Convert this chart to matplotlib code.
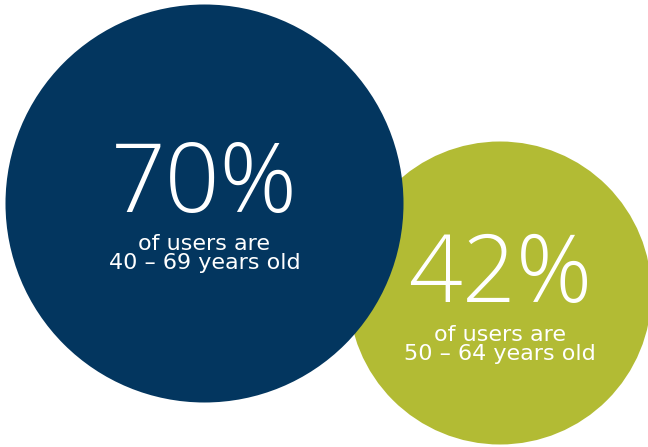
import matplotlib
matplotlib.use("Agg")
import matplotlib.pyplot as plt
from matplotlib.patches import Circle

# Figures shown in the two bubbles
shares = [70, 42]
subtitles = ["of users are", "of users are"]
age_ranges = ["40 – 69 years old", "50 – 64 years old"]

# Bubble layout (pixel space, y pointing down)
centers = [(204.5, 203.5), (500.0, 293.0)]
radii = [199.0, 151.5]
colors = ["#03365F", "#B2BB34"]
zorders = [3, 2]
baselines = [(212, 269), (302, 360)]
big_sizes = [69, 68]

big_fam = ["Open Sans", "DejaVu Sans"]
small_fam = ["DejaVu Sans"]

fig = plt.figure(figsize=(6.48, 4.47), dpi=100)
ax = fig.add_axes([0, 0, 1, 1])
ax.set_xlim(0, 648)
ax.set_ylim(447, 0)
ax.set_aspect("equal")
ax.axis("off")

for share, sub, ages, (cx, cy), r, col, z, (ybig, ylast), bs in zip(
        shares, subtitles, age_ranges, centers, radii, colors, zorders,
        baselines, big_sizes):
    ax.add_patch(Circle((cx, cy), r, facecolor=col, edgecolor="none", zorder=z))
    ax.text(cx, ybig, f"{share}%", color="white", fontsize=bs, family=big_fam,
            fontweight=300, ha="center", va="baseline", zorder=z + 0.5)
    # two-line caption; the baseline anchor sits on the last line
    ax.text(cx, ylast, f"{sub}\n{ages}", color="white", fontsize=16,
            family=small_fam, ha="center", va="baseline", multialignment="center",
            linespacing=0.92, zorder=z + 0.5)

fig.savefig("out.png", dpi=100, facecolor="white")
